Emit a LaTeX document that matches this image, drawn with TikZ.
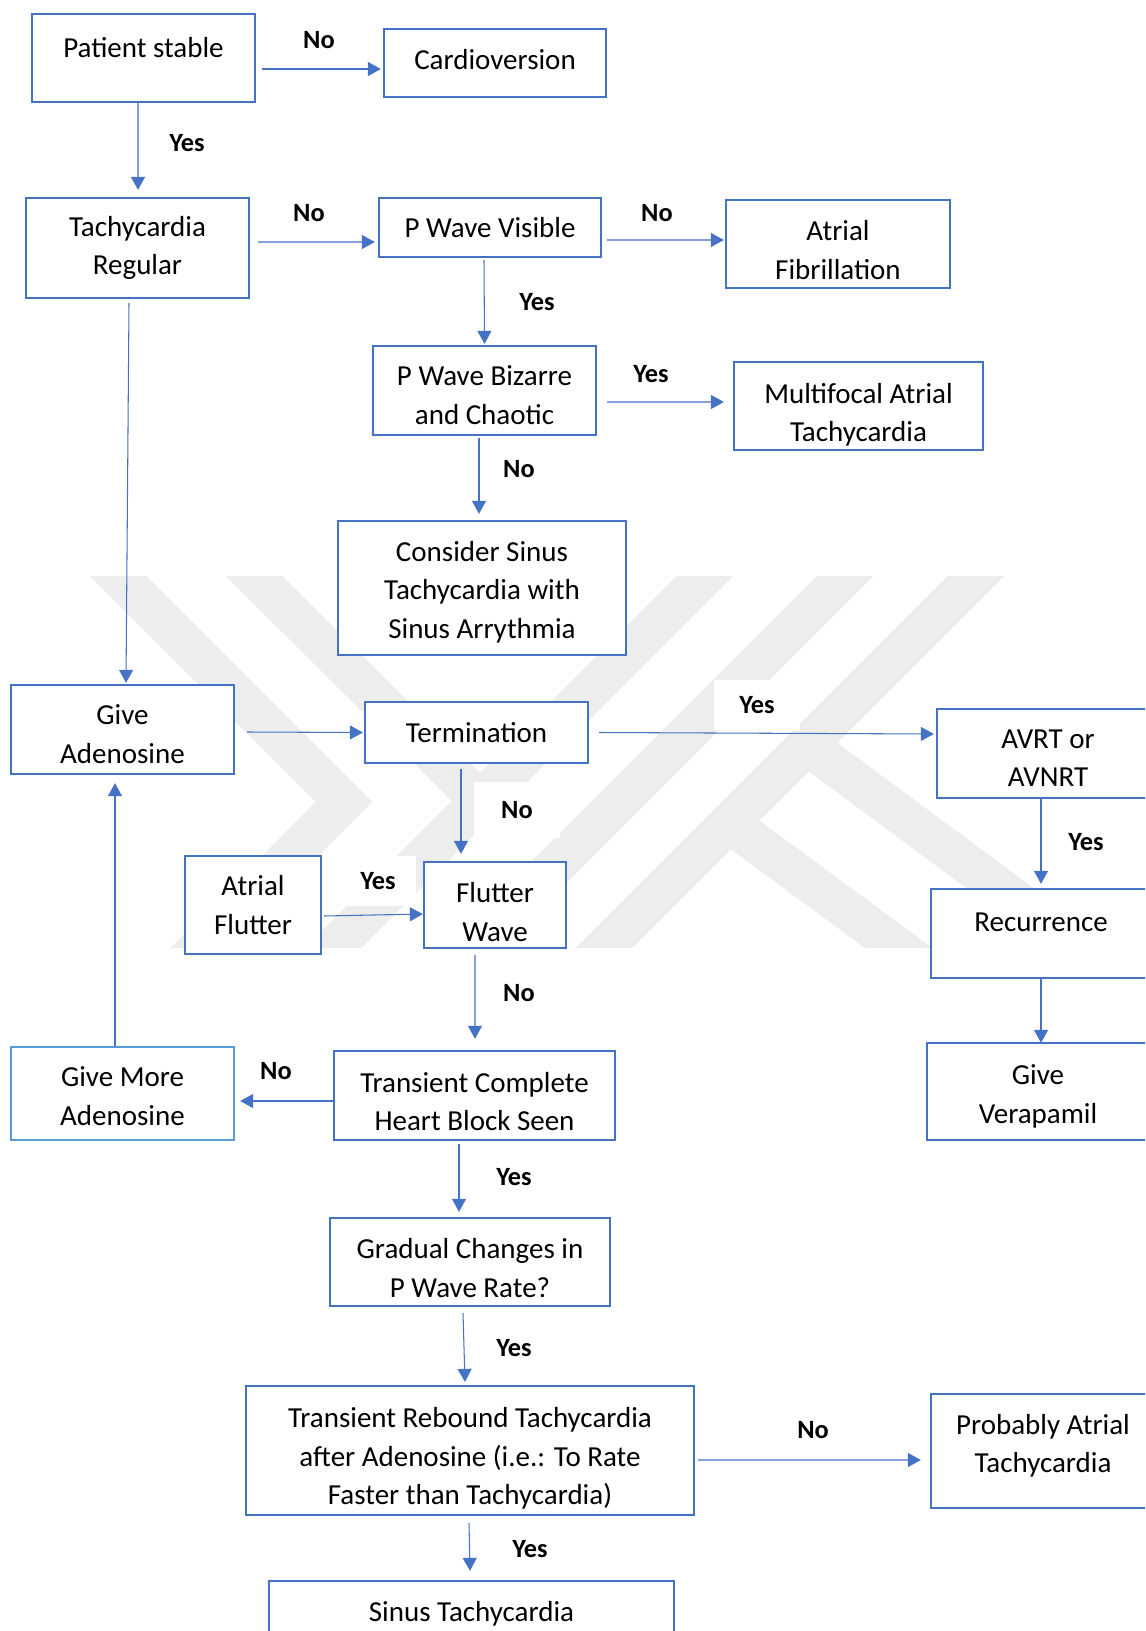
\documentclass[tikz,border=0pt]{standalone}
\usepackage{fontspec}
\setmainfont{Carlito}
\usetikzlibrary{calc,arrows.meta}
\usepackage{xcolor}
\definecolor{cbox}{HTML}{4472C4}
\definecolor{cboxl}{HTML}{5B9BD5}
\definecolor{cwm}{HTML}{EDEDED}
\newcommand{\topgap}[1]{\rule{0pt}{#1}}
\tikzset{
	boxfont/.style={font=\fontsize{16.5}{21.9}\selectfont,},
	lblfont/.style={font=\fontsize{15}{18}\selectfont\bfseries,},
	%%%
	sz/.style 2 args={minimum width=#1*0.02cm, minimum height=#2*0.02cm},
	box/.style={draw=cbox, line width=1.3pt, fill=white, align=center, inner sep=0pt, boxfont},
	boxl/.style={box, draw=cboxl},
	%%%
	lbl/.style={lblfont, inner sep=0pt},
	lblbg/.style={lbl, fill=white, minimum width=1.72cm, minimum height=1.0cm},
	arr/.style={cbox, line width=0.6pt, -{Triangle[length=0.26cm, width=0.28cm]}},
	wm/.style={cwm, line width=0.8cm, line join=miter},
}

\begin{document}
\begin{tikzpicture}[x=0.02cm, y=-0.02cm]

	\useasboundingbox (0,0) rectangle (1145,1631);
	\clip (0,0) rectangle (1145,1631);

	%%% Watermark

	\begin{scope}
		\clip (0,576) rectangle (1145,947);
		\draw[wm] (88,546) -- (344,802) -- (170,977);
		\draw[wm] (224,546) -- (480,801);
		\draw[wm] (735,546) -- (304,977);
		\draw[wm] (875,546) -- (444,977);
		\draw[wm] (1006,546) -- (575,977);
		\draw[wm] (729,823) -- (938,977);
		\draw[wm] (800,740) -- (1120,977);
	\end{scope}

	%%% Boxes

	\node[box, sz={223}{88}, text depth=0.44cm] (ps) at (143.5,58) {Patient stable};
	\node[box, sz={222}{68}, text depth=0.16cm] (cv) at (495,63) {Cardioversion};
	\node[box, sz={223}{100}] (tr) at (137.5,248) {Tachycardia\\Regular};
	\node[box, sz={222}{59}] (pv) at (490,227.5) {P Wave Visible};
	\node[box, sz={224}{88}] (af) at (838,244) {\topgap{0.64cm}Atrial\\Fibrillation};
	\node[box, sz={223}{89}] (pb) at (484.5,390.5) {\topgap{0.59cm}P Wave Bizarre\\and Chaotic};
	\node[box, sz={249}{88}] (mat) at (858.5,406) {\topgap{0.76cm}Multifocal Atrial\\Tachycardia};
	\node[box, sz={288}{134}] (cs) at (482,588) {\topgap{0.56cm}Consider Sinus\\Tachycardia with\\Sinus Arrythmia};

	\node[box, sz={223}{89}] (ga) at (122.5,729.5) {\topgap{0.59cm}Give\\Adenosine};
	\node[box, sz={223}{61}] (te) at (476.5,732.5) {Termination};
	\node[box, sz={222}{89}] (av) at (1048,753.5) {\topgap{0.57cm}AVRT or\\AVNRT};
	\node[box, sz={136}{98}] (afl) at (253,905) {Atrial\\Flutter};
	\node[box, sz={142}{86}] (fw) at (495,905) {\topgap{0.68cm}Flutter\\Wave};
	\node[box, sz={220}{89}, text depth=0.44cm] (re) at (1041,933.5) {Recurrence};

	\node[boxl, sz={223}{93}] (gm) at (122.5,1093.5) {\topgap{0.51cm}Give More\\Adenosine};
	\node[box, sz={281}{89}] (tc) at (474.5,1095.5) {\topgap{0.64cm}Transient Complete\\Heart Block Seen};
	\node[box, sz={222}{97}] (gv) at (1038,1091.5) {\topgap{0.59cm}Give\\Verapamil};
	\node[box, sz={280}{88}] (gc) at (470,1262) {\topgap{0.64cm}Gradual Changes in\\P Wave Rate?};
	\node[box, sz={448}{129}] (trt) at (470,1450.5) {\topgap{0.72cm}Transient Rebound Tachycardia\\after Adenosine (i.e.: To Rate\\Faster than Tachycardia)};
	\node[box, sz={224}{114}, text depth=0.30cm] (pat) at (1043,1451) {Probably Atrial\\Tachycardia};
	\node[box, sz={405}{60}] (st) at (471.5,1611) {\topgap{0.52cm}Sinus Tachycardia};

	%%% Arrows

	\draw[arr] ($(ps.east)+(6,11)$) -- ($(cv.west)+(-2,6)$);
	\draw[arr] ($(ps.south)+(-5.5,0)$) -- ($(tr.north)+(0.5,-7)$);
	\draw[arr] ($(tr.east)+(8,-6)$) -- ($(pv.west)+(-3,14.5)$);
	\draw[arr] ($(pv.east)+(5,12.5)$) -- ($(af.west)+(-1,-4)$);
	\draw[arr] ($(pv.south)+(-6,2)$) -- ($(pb.north)+(0,-1)$);
	\draw[arr] ($(pb.east)+(10,11.5)$) -- ($(mat.west)+(-9,-4)$);
	\draw[arr] ($(pb.south)+(-5.5,2)$) -- ($(cs.north)+(-3,-6)$);
	\draw[arr] ($(tr.south)+(-8.5,4)$) -- ($(ga.north)+(3.5,-1)$);
	\draw[arr] ($(ga.east)+(12,2.5)$) -- ($(te.west)+(-1,0)$);
	\draw[arr] ($(te.east)+(10,0)$) -- ($(av.west)+(-2,-19.5)$);
	\draw[arr] ($(te.south)+(-15.5,5)$) -- ($(fw.north)+(-34,-7)$);
	\draw[arr] ($(afl.east)+(2,11)$) -- ($(fw.west)+(0,9)$);
	\draw[arr] ($(av.south)+(-7,0)$) -- ($(re.north)+(0,-4)$);
	\draw[arr] (re.south) -- ($(gv.north)+(3,1)$);
	\draw[arr] ($(fw.south)+(-20,6)$) -- ($(tc.north)+(0.5,-11)$);
	\draw[arr] ($(tc.west)+(0,5.5)$) -- ($(gm.east)+(5,7.5)$);
	\draw[arr] ($(gm.north)+(-7.5,0)$) -- ($(ga.south)+(-7.5,8)$);
	\draw[arr] ($(tc.south)+(-15.5,3)$) -- ($(gc.north)+(-11,-5)$);
	\draw[arr] ($(gc.south)+(-7,6)$) -- ($(trt.north)+(-5,-3)$);
	\draw[arr] ($(trt.east)+(3,9.5)$) -- ($(pat.west)+(-9,9)$);
	\draw[arr] ($(trt.south)+(-1,7)$) -- ($(st.north)+(-1.5,-9)$);

	%%% Labels

	\node[lbl] (lno1) at (319,40) {No};
	\node[lbl] (lyes1) at (187,143) {Yes};
	\node[lbl] (lno2) at (309,213) {No};
	\node[lbl] (lno3) at (657,213) {No};
	\node[lbl] (lyes2) at (537,302) {Yes};
	\node[lbl] (lyes3) at (651,374) {Yes};
	\node[lbl] (lno4) at (519,469) {No};
	\node[lblbg] (lyes4) at (757,705) {Yes};
	\node[lblbg, minimum height=1.12cm] (lno5) at (517,810) {No};
	\node[lblbg, minimum width=1.5cm] (lyes5) at (378,881) {Yes};
	\node[lbl] (lyes6) at (1086,842) {Yes};
	\node[lbl] (lno6) at (519,993) {No};
	\node[lbl] (lno7) at (276,1071) {No};
	\node[lbl] (lyes7) at (514,1177) {Yes};
	\node[lbl] (lyes8) at (514,1348) {Yes};
	\node[lbl] (lno8) at (813,1430) {No};
	\node[lbl] (lyes9) at (530,1549) {Yes};

\end{tikzpicture}
\end{document}
